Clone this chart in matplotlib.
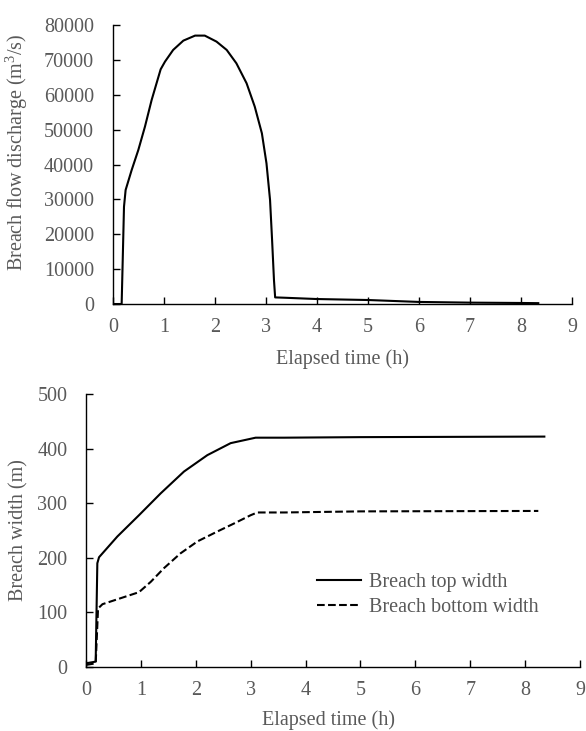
import numpy as np
import matplotlib
matplotlib.use("Agg")
import matplotlib.pyplot as plt

plt.rcParams['font.family'] = ['Liberation Serif', 'DejaVu Serif']
plt.rcParams['mathtext.default'] = 'regular'

# breach outflow hydrograph
t_q = [0.0, 0.10, 0.17, 0.19, 0.216, 0.248, 0.366, 0.497, 0.627, 0.758, 0.935, 1.02,
       1.18, 1.38, 1.61, 1.80, 2.03, 2.23, 2.42, 2.62, 2.78, 2.92, 3.01, 3.08, 3.12,
       3.157, 3.18, 3.37, 4.0, 5.0, 6.0, 7.0, 8.0, 8.34]
discharge = [0, 0, 0, 12000, 27900, 32700, 38400, 44170, 50860, 58500, 67300, 69500,
             72850, 75520, 76960, 76960, 75240, 72850, 69020, 63290, 56600, 48950, 40340,
             29830, 18360, 6880, 1900, 1800, 1430, 1150, 600, 400, 300, 250]

# breach widths
t_top = [0.0, 0.176, 0.206, 0.237, 0.571, 0.965, 1.36, 1.785, 2.21, 2.635, 3.09, 3.61,
         5.0, 8.35]
top_width = [6.7, 9.8, 190, 201, 239, 278, 318, 358, 388, 410, 420, 420, 421, 422]
t_bot = [0.0, 0.176, 0.219, 0.30, 0.632, 0.965, 1.18, 1.42, 1.72, 2.03, 2.39, 2.70, 3.0,
         3.12, 3.61, 5.0, 8.24]
bottom_width = [3.7, 6.7, 107, 115, 126, 137, 156, 181, 208, 230, 248, 263, 278, 283, 283,
                285, 285.8]

gray = '#595959'
fs = 14.5

fig = plt.figure(figsize=(5.86, 7.31), dpi=100)
ax1 = fig.add_axes([0.1928, 0.5841, 0.7832, 0.3817])
ax2 = fig.add_axes([0.1468, 0.0876, 0.8430, 0.3734])

ax1.plot(t_q, discharge, color='black', lw=1.5)
ax1.set_xlim(0, 9)
ax1.set_ylim(0, 80000)
ax1.set_xticks(range(0, 10))
ax1.set_yticks(range(0, 80001, 10000))
ax1.set_ylabel('Breach flow discharge (m$^3$/s)', fontsize=fs, color=gray)
ax1.set_xlabel('Elapsed time (h)', fontsize=fs, color=gray)
ax1.yaxis.set_label_coords(-0.181, 0.545)
ax1.xaxis.set_label_coords(0.5, -0.161)

ax2.plot(t_top, top_width, color='black', lw=1.5, label='Breach top width')
ax2.plot(t_bot, bottom_width, color='black', lw=1.5, ls='--', label='Breach bottom width')
ax2.set_xlim(0, 9)
ax2.set_ylim(0, 500)
ax2.set_xticks(range(0, 10))
ax2.set_yticks(range(0, 501, 100))
ax2.set_ylabel('Breach width (m)', fontsize=fs, color=gray)
ax2.set_xlabel('Elapsed time (h)', fontsize=fs, color=gray)
ax2.yaxis.set_label_coords(-0.117, 0.5)
ax2.xaxis.set_label_coords(0.49, -0.158)
leg = ax2.legend(loc='center left', bbox_to_anchor=(0.43, 0.264), frameon=False,
                 fontsize=fs, handlelength=2.2, handletextpad=0.4, labelspacing=0.3)
for txt in leg.get_texts():
    txt.set_color(gray)

for ax in (ax1, ax2):
    ax.spines['top'].set_visible(False)
    ax.spines['right'].set_visible(False)
    ax.spines['left'].set_linewidth(1.0)
    ax.spines['bottom'].set_linewidth(1.0)
    ax.tick_params(axis='x', direction='in', length=5, width=1, pad=10,
                   labelsize=fs, labelcolor=gray)
    ax.tick_params(axis='y', direction='in', length=5, width=1, pad=13.5,
                   labelsize=fs, labelcolor=gray)

fig.savefig('out.png', dpi=100)
